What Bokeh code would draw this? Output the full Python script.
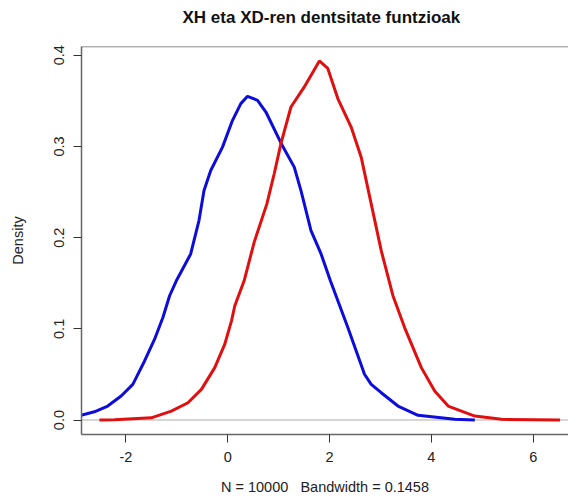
from bokeh.plotting import figure
from bokeh.models import Range1d, FixedTicker, Span, Title
from bokeh.embed import file_html
from bokeh.resources import INLINE

# ---- data ----
title_text = "XH eta XD-ren dentsitate funtzioak"
x_label = "N = 10000\u00a0\u00a0\u00a0Bandwidth = 0.1458"
y_label = "Density"

x_ticks = [-2, 0, 2, 4, 6]
x_tick_labels = ["-2", "0", "2", "4", "6"]
y_ticks = [0.0, 0.1, 0.2, 0.3, 0.4]
y_tick_labels = ["0.0", "0.1", "0.2", "0.3", "0.4"]

blue_x = [-3.20, -2.883, -2.621, -2.359, -2.095, -1.866, -1.799, -1.635, -1.438,
          -1.275, -1.143, -1.011, -0.729, -0.566, -0.467, -0.335, -0.104, 0.093,
          0.256, 0.388, 0.585, 0.749, 1.044, 1.306, 1.438, 1.635, 1.833, 2.016,
          2.359, 2.686, 2.818, 3.015, 3.344, 3.738, 4.459, 4.853]
blue_y = [0.0025, 0.0052, 0.0091, 0.0154, 0.0264, 0.0392, 0.0465, 0.0648, 0.0887,
          0.1124, 0.1363, 0.1527, 0.1821, 0.2187, 0.2516, 0.2736, 0.2992, 0.3286,
          0.3469, 0.3549, 0.3505, 0.3377, 0.3038, 0.2773, 0.2516, 0.2077, 0.1821,
          0.1527, 0.1014, 0.0502, 0.0392, 0.0300, 0.0154, 0.0052, 0.0008, 0.0001]

red_x = [-2.522, -2.227, -1.503, -1.109, -0.782, -0.518, -0.256, -0.059, 0.073,
         0.138, 0.321, 0.518, 0.768, 0.912, 1.044, 1.241, 1.503, 1.799, 1.965,
         2.162, 2.424, 2.621, 2.818, 3.015, 3.245, 3.474, 3.803, 4.065, 4.329,
         4.591, 4.853, 5.379, 6.528]
red_y = [0.0000, 0.0003, 0.0025, 0.0099, 0.0190, 0.0337, 0.0575, 0.0832, 0.1088,
         0.1253, 0.1527, 0.1948, 0.2370, 0.2700, 0.3030, 0.3432, 0.3652, 0.3937,
         0.3854, 0.3524, 0.3212, 0.2882, 0.2370, 0.1857, 0.1363, 0.1014, 0.0575,
         0.0319, 0.0154, 0.0099, 0.0044, 0.0008, 0.0000]

FONT = "Liberation Sans"
X0, X1 = -2.874, 6.694
Y0, Y1 = -0.0158, 0.4095

p = figure(width=568, height=502,
           x_range=Range1d(X0, X1), y_range=Range1d(Y0, Y1),
           output_backend="svg", toolbar_location=None,
           min_border_left=81, min_border_right=0,
           min_border_top=46, min_border_bottom=68,
           title=None)

# spacer panel between frame and title
spacer = Title(text=" ", text_font_size="1px", standoff=17, text_color="white")
p.add_layout(spacer, "above")

main_title = Title(text=title_text, text_font=FONT, text_font_style="bold",
                   text_font_size="17px", text_color="#111111",
                   align="left", offset=101, standoff=0)
p.add_layout(main_title, "above")

p.xgrid.visible = False
p.ygrid.visible = False
p.outline_line_color = None
p.background_fill_color = "white"
p.border_fill_color = "white"

for ax in (p.xaxis[0], p.yaxis[0]):
    ax.axis_line_color = "#666666"
    ax.axis_line_width = 1.5
    ax.major_tick_line_color = "#333333"
    ax.major_tick_line_width = 1
    ax.major_tick_out = 8
    ax.major_tick_in = 0
    ax.minor_tick_line_color = None
    ax.major_label_text_font = FONT
    ax.major_label_text_font_size = "14.5px"
    ax.major_label_text_color = "#222222"
    ax.axis_label_text_font = FONT
    ax.axis_label_text_font_size = "14.5px"
    ax.axis_label_text_font_style = "normal"
    ax.axis_label_text_color = "#222222"

p.xaxis.ticker = FixedTicker(ticks=x_ticks)
p.xaxis.major_label_overrides = {t: l for t, l in zip(x_ticks, x_tick_labels)}
p.xaxis.axis_label = x_label
p.xaxis.major_label_standoff = 9
p.xaxis.axis_label_standoff = 14

p.yaxis.ticker = FixedTicker(ticks=y_ticks)
p.yaxis.major_label_overrides = {t: l for t, l in zip(y_ticks, y_tick_labels)}
p.yaxis.axis_label = y_label
p.yaxis.major_label_orientation = "vertical"
p.yaxis.major_label_standoff = 9
p.yaxis.axis_label_standoff = 26

zero = Span(location=0, dimension="width", line_color="#c8c8c8",
            line_width=1.5, level="underlay")
top = Span(location=Y1, dimension="width", line_color="#666666", line_width=1.5)
p.add_layout(zero)
p.add_layout(top)

p.line(blue_x, blue_y, line_color="#0c0cdc", line_width=3)
p.line(red_x, red_y, line_color="#e01010", line_width=3)

open("out.html", "w").write(file_html(p, INLINE))
